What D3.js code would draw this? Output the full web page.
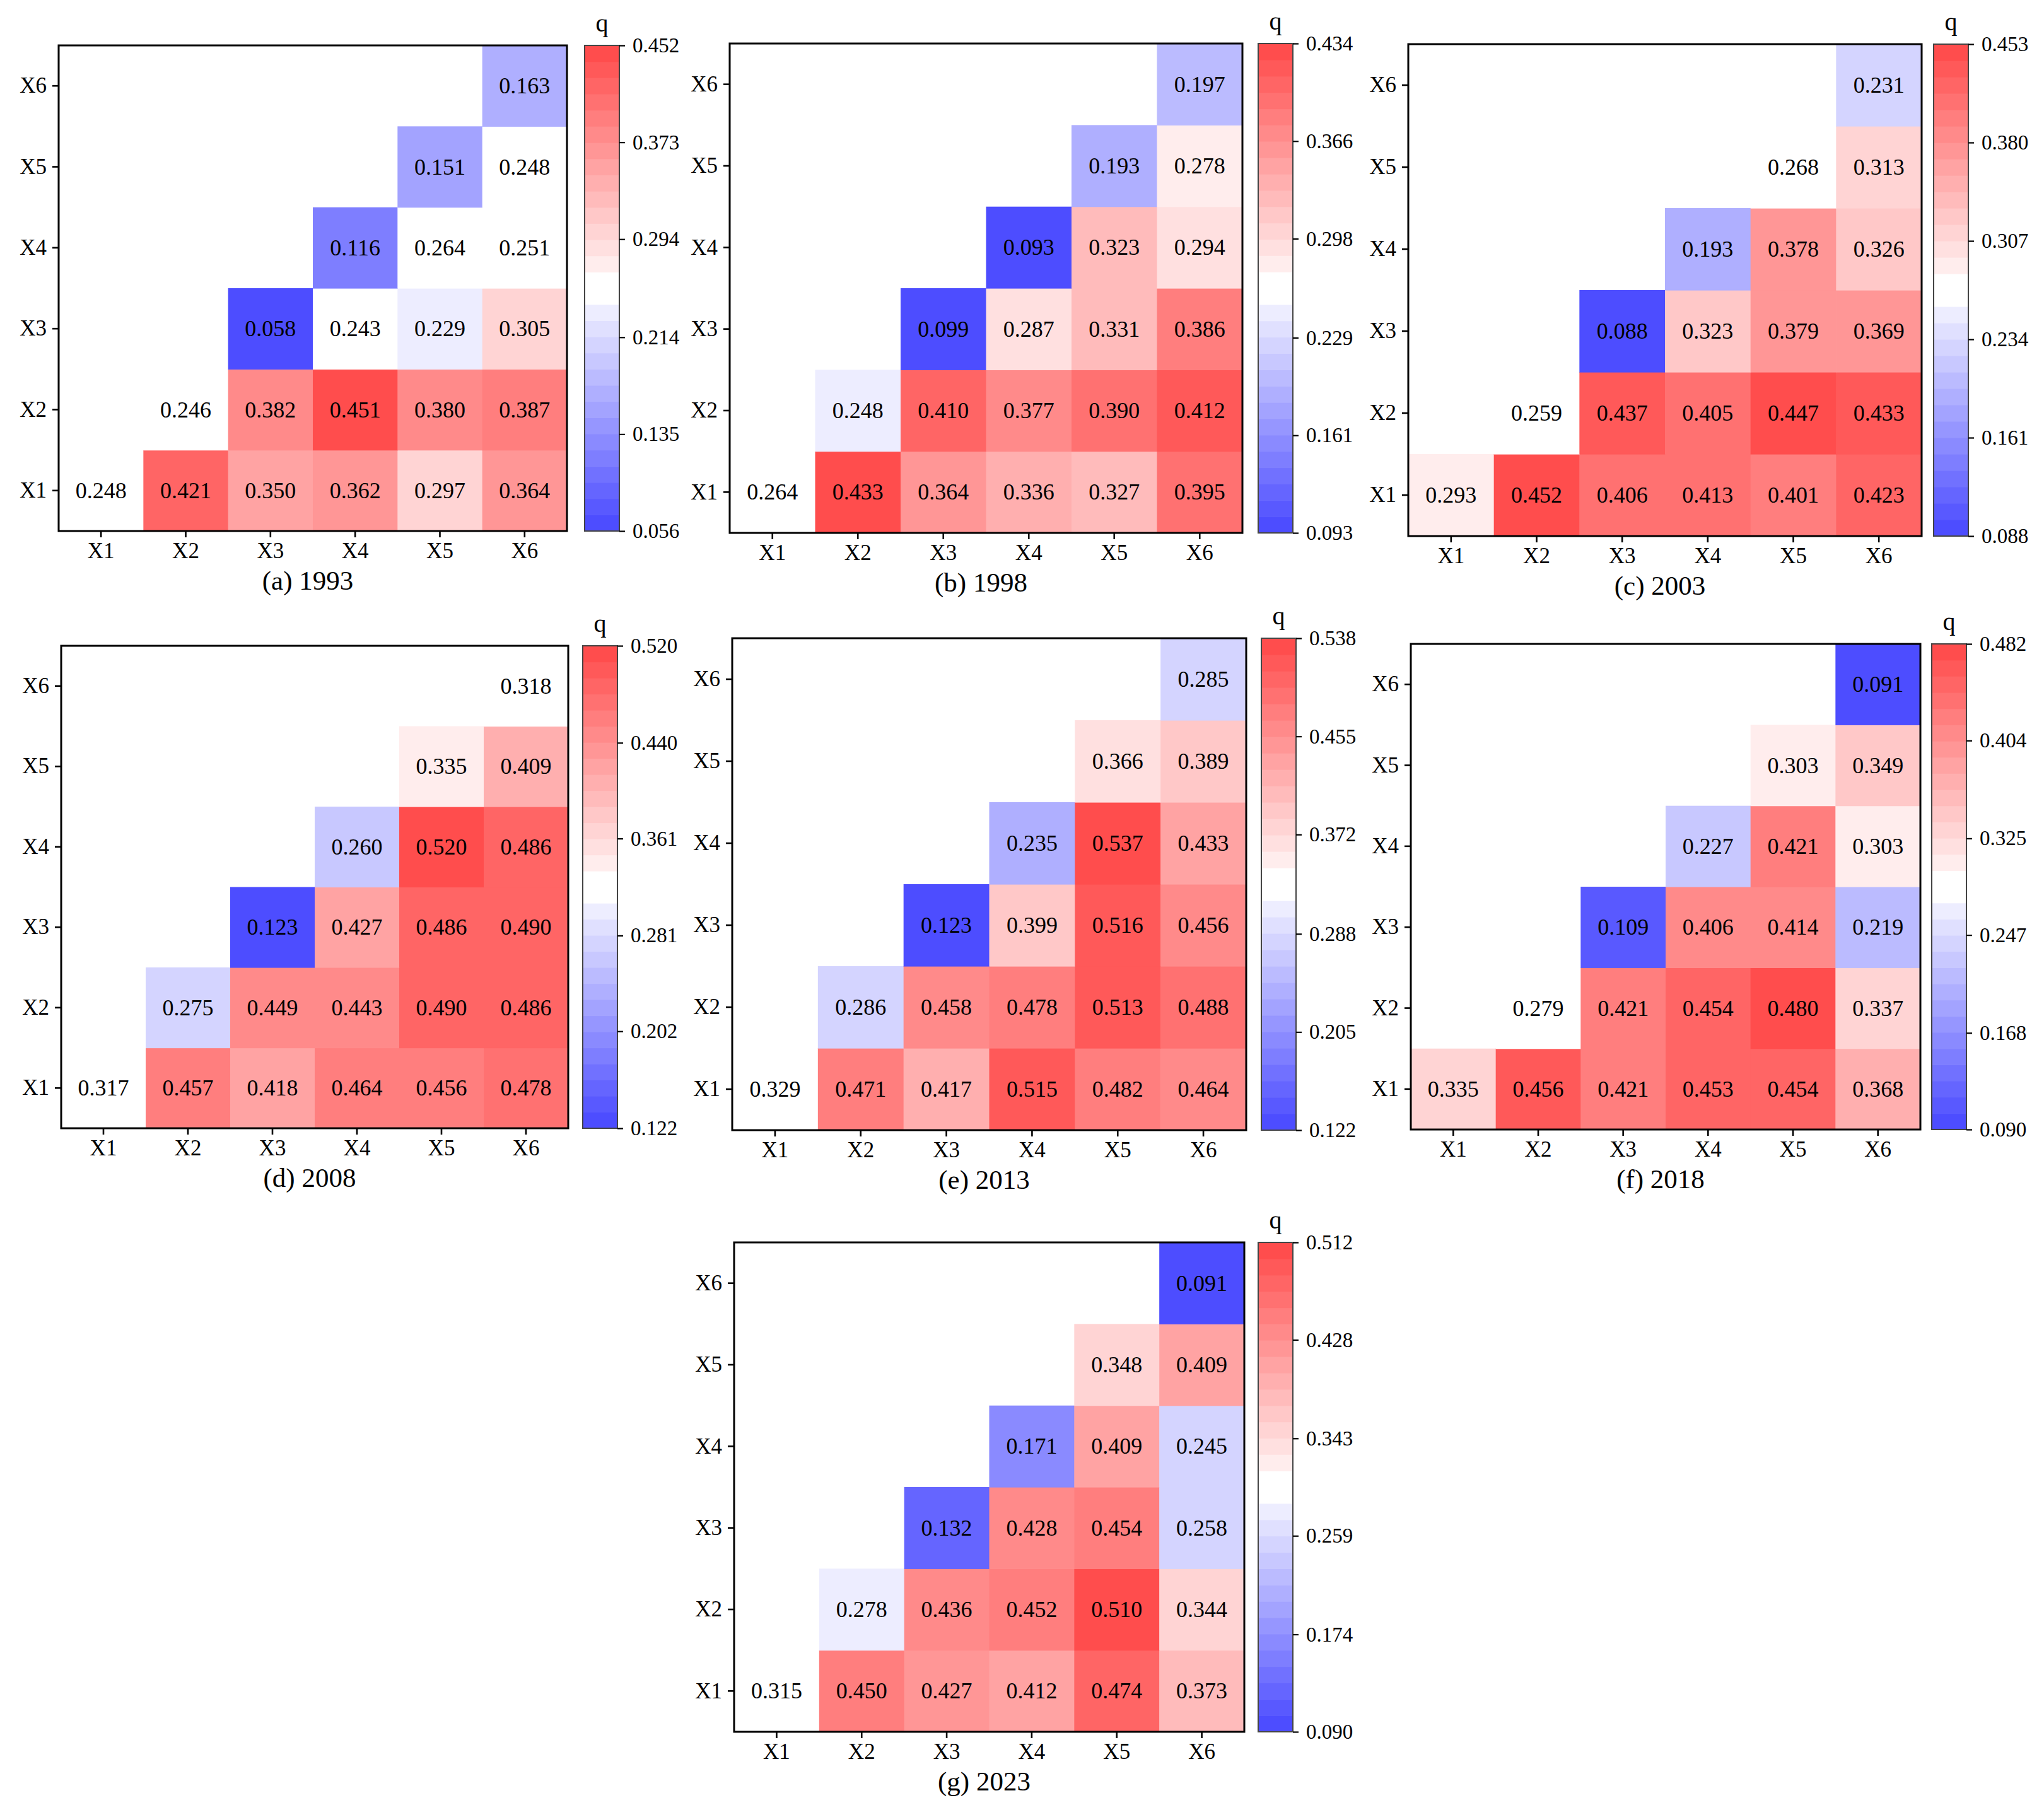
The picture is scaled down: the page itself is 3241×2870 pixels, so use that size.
<!DOCTYPE html>
<html>
<head>
<meta charset="utf-8">
<script src="https://cdn.jsdelivr.net/npm/d3@7/dist/d3.min.js"></script>
<style>
  html, body { margin: 0; padding: 0; background: #ffffff; }
  svg { display: block; }
  text { font-family: "Times New Roman", "Liberation Serif", "DejaVu Serif", serif; fill: #000; }
</style>
</head>
<body>
<script>
// ---------------- DATA ----------------
const variables = ["X1", "X2", "X3", "X4", "X5", "X6"];
const years = [1993, 1998, 2003, 2008, 2013, 2018, 2023];
const panelTags = ["(a)", "(b)", "(c)", "(d)", "(e)", "(f)", "(g)"];

// Upper-triangle q values: row i (Xi) holds columns Xi..X6
const q1993 = [
  [0.248, 0.421, 0.350, 0.362, 0.297, 0.364],
  [0.246, 0.382, 0.451, 0.380, 0.387],
  [0.058, 0.243, 0.229, 0.305],
  [0.116, 0.264, 0.251],
  [0.151, 0.248],
  [0.163]
];
const q1998 = [
  [0.264, 0.433, 0.364, 0.336, 0.327, 0.395],
  [0.248, 0.410, 0.377, 0.390, 0.412],
  [0.099, 0.287, 0.331, 0.386],
  [0.093, 0.323, 0.294],
  [0.193, 0.278],
  [0.197]
];
const q2003 = [
  [0.293, 0.452, 0.406, 0.413, 0.401, 0.423],
  [0.259, 0.437, 0.405, 0.447, 0.433],
  [0.088, 0.323, 0.379, 0.369],
  [0.193, 0.378, 0.326],
  [0.268, 0.313],
  [0.231]
];
const q2008 = [
  [0.317, 0.457, 0.418, 0.464, 0.456, 0.478],
  [0.275, 0.449, 0.443, 0.490, 0.486],
  [0.123, 0.427, 0.486, 0.490],
  [0.260, 0.520, 0.486],
  [0.335, 0.409],
  [0.318]
];
const q2013 = [
  [0.329, 0.471, 0.417, 0.515, 0.482, 0.464],
  [0.286, 0.458, 0.478, 0.513, 0.488],
  [0.123, 0.399, 0.516, 0.456],
  [0.235, 0.537, 0.433],
  [0.366, 0.389],
  [0.285]
];
const q2018 = [
  [0.335, 0.456, 0.421, 0.453, 0.454, 0.368],
  [0.279, 0.421, 0.454, 0.480, 0.337],
  [0.109, 0.406, 0.414, 0.219],
  [0.227, 0.421, 0.303],
  [0.303, 0.349],
  [0.091]
];
const q2023 = [
  [0.315, 0.450, 0.427, 0.412, 0.474, 0.373],
  [0.278, 0.436, 0.452, 0.510, 0.344],
  [0.132, 0.428, 0.454, 0.258],
  [0.171, 0.409, 0.245],
  [0.348, 0.409],
  [0.091]
];

// Colorbar tick labels (first = vmin, last = vmax)
const cb1993 = ["0.056", "0.135", "0.214", "0.294", "0.373", "0.452"];
const cb1998 = ["0.093", "0.161", "0.229", "0.298", "0.366", "0.434"];
const cb2003 = ["0.088", "0.161", "0.234", "0.307", "0.380", "0.453"];
const cb2008 = ["0.122", "0.202", "0.281", "0.361", "0.440", "0.520"];
const cb2013 = ["0.122", "0.205", "0.288", "0.372", "0.455", "0.538"];
const cb2018 = ["0.090", "0.168", "0.247", "0.325", "0.404", "0.482"];
const cb2023 = ["0.090", "0.174", "0.259", "0.343", "0.428", "0.512"];

const qData = [q1993, q1998, q2003, q2008, q2013, q2018, q2023];
const cbData = [cb1993, cb1998, cb2003, cb2008, cb2013, cb2018, cb2023];

// ---------------- LAYOUT ----------------
const W = 3241, H = 2870;
const layout = [
  { x0: 93,   x1: 899,  y0: 72,   y1: 842,  cb: 927 },
  { x0: 1157, x1: 1970, y0: 69,   y1: 845,  cb: 1995 },
  { x0: 2233, x1: 3047, y0: 70,   y1: 850,  cb: 3066 },
  { x0: 97,   x1: 901,  y0: 1024, y1: 1789, cb: 924 },
  { x0: 1161, x1: 1976, y0: 1012, y1: 1792, cb: 2000 },
  { x0: 2237, x1: 3045, y0: 1021, y1: 1791, cb: 3063 },
  { x0: 1164, x1: 1973, y0: 1970, y1: 2746, cb: 1995 }
];
const cbWidth = 55;
const NLEV = 30;
const ALPHA = 0.7;

function bwr(t) {
  if (t < 0.5) { const s = t / 0.5; return [s, s, 1]; }
  const s = (1 - t) / 0.5; return [1, s, s];
}
function levelColor(k) {
  const t = k / (NLEV - 1);
  if (Math.abs(t - 0.5) < 0.05) return "#ffffff";
  const c = bwr(t);
  const m = c.map(v => Math.round(255 * (1 - ALPHA * (1 - v))));
  return d3.rgb(m[0], m[1], m[2]).toString();
}
function colorFor(v, vmin, vmax) {
  let k = Math.floor((v - vmin) / (vmax - vmin) * NLEV);
  k = Math.max(0, Math.min(NLEV - 1, k));
  return levelColor(k);
}

const svg = d3.select("body").append("svg")
  .attr("width", W).attr("height", H)
  .attr("viewBox", `0 0 ${W} ${H}`);
svg.append("rect").attr("width", W).attr("height", H).attr("fill", "#fff");

const fmt = d3.format(".3f");

years.forEach((year, p) => {
  const L = layout[p];
  const q = qData[p];
  const cbLabels = cbData[p];
  const vmin = +cbLabels[0], vmax = +cbLabels[cbLabels.length - 1];

  const g = svg.append("g");
  const x = d3.scaleBand().domain(variables).range([L.x0, L.x1]).padding(0);
  const y = d3.scaleBand().domain(variables).range([L.y1, L.y0]).padding(0);

  const cells = [];
  q.forEach((row, i) => {
    row.forEach((v, jj) => {
      const j = i + jj;
      cells.push({ r: variables[i], c: variables[j], v });
    });
  });

  g.selectAll("rect.cell").data(cells).join("rect")
    .attr("class", "cell")
    .attr("x", d => x(d.c))
    .attr("y", d => y(d.r))
    .attr("width", x.bandwidth() + 0.6)
    .attr("height", y.bandwidth() + 0.6)
    .attr("fill", d => colorFor(d.v, vmin, vmax));

  g.selectAll("text.val").data(cells).join("text")
    .attr("class", "val")
    .attr("x", d => x(d.c) + x.bandwidth() / 2)
    .attr("y", d => y(d.r) + y.bandwidth() / 2)
    .attr("text-anchor", "middle")
    .attr("dominant-baseline", "central")
    .attr("font-size", 36)
    .text(d => fmt(d.v));

  // axes
  const xAxis = g.append("g")
    .attr("transform", `translate(0,${L.y1})`)
    .call(d3.axisBottom(x).tickSize(10).tickPadding(8).tickSizeOuter(0));
  const yAxis = g.append("g")
    .attr("transform", `translate(${L.x0},0)`)
    .call(d3.axisLeft(y).tickSize(10).tickPadding(9).tickSizeOuter(0));
  [xAxis, yAxis].forEach(a => {
    a.select(".domain").remove();
    a.selectAll(".tick line").attr("stroke", "#000").attr("stroke-width", 2.6);
    a.selectAll(".tick text").attr("font-size", 35)
      .attr("font-family", '"Times New Roman", "Liberation Serif", serif').attr("fill", "#000");
  });

  // frame
  g.append("rect")
    .attr("x", L.x0).attr("y", L.y0)
    .attr("width", L.x1 - L.x0).attr("height", L.y1 - L.y0)
    .attr("fill", "none").attr("stroke", "#000").attr("stroke-width", 3);

  // title
  g.append("text")
    .attr("x", (L.x0 + L.x1) / 2 - 8)
    .attr("y", L.y1 + 78)
    .attr("text-anchor", "middle")
    .attr("dominant-baseline", "central")
    .attr("font-size", 43)
    .text(`${panelTags[p]} ${year}`);

  // colorbar
  const cy = d3.scaleLinear().domain([vmin, vmax]).range([L.y1, L.y0]);
  const step = (vmax - vmin) / NLEV;
  const levels = d3.range(NLEV);
  g.selectAll("rect.cb").data(levels).join("rect")
    .attr("class", "cb")
    .attr("x", L.cb)
    .attr("y", k => cy(vmin + (k + 1) * step))
    .attr("width", cbWidth)
    .attr("height", k => cy(vmin + k * step) - cy(vmin + (k + 1) * step) + 0.6)
    .attr("fill", k => levelColor(k));
  g.append("rect")
    .attr("x", L.cb).attr("y", L.y0)
    .attr("width", cbWidth).attr("height", L.y1 - L.y0)
    .attr("fill", "none").attr("stroke", "#444").attr("stroke-width", 2);

  const cbAxis = g.append("g")
    .attr("transform", `translate(${L.cb + cbWidth},0)`)
    .call(d3.axisRight(cy).tickValues(cbLabels.map(Number))
      .tickFormat((d, i) => cbLabels[i]).tickSize(9).tickPadding(12).tickSizeOuter(0));
  cbAxis.select(".domain").remove();
  cbAxis.selectAll(".tick line").attr("stroke", "#000").attr("stroke-width", 2.2);
  cbAxis.selectAll(".tick text").attr("font-size", 33)
    .attr("font-family", '"Times New Roman", "Liberation Serif", serif').attr("fill", "#000");

  g.append("text")
    .attr("x", L.cb + cbWidth / 2)
    .attr("y", L.y0 - 36)
    .attr("text-anchor", "middle")
    .attr("dominant-baseline", "central")
    .attr("font-size", 40)
    .text("q");
});
</script>
</body>
</html>
